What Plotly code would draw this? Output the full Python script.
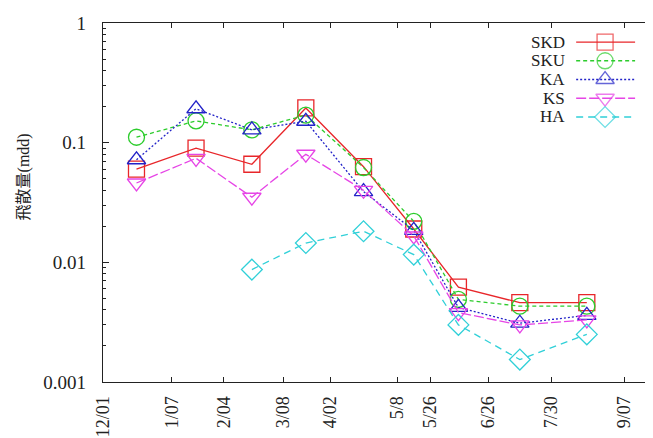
import plotly.graph_objects as go

# ---- data ----
dates = ["2010-12-19", "2011-01-20", "2011-02-19", "2011-03-20", "2011-04-20",
         "2011-05-17", "2011-06-10", "2011-07-13", "2011-08-18"]
SKD = [0.060, 0.090, 0.066, 0.195, 0.063, 0.019, 0.0062, 0.0046, 0.0046]
SKU = [0.111, 0.152, 0.128, 0.170, 0.062, 0.022, 0.0049, 0.0043, 0.0043]
KA = [0.072, 0.192, 0.128, 0.151, 0.039, 0.0185, 0.0042, 0.0031, 0.0036]
KS = [0.046, 0.074, 0.035, 0.080, 0.040, 0.0166, 0.0038, 0.0030, 0.0033]
HA = [None, None, 0.0087, 0.0145, 0.0182, 0.0116, 0.0030, 0.00154, 0.0025]

series_names = ["SKD", "SKU", "KA", "KS", "HA"]
series_values = [SKD, SKU, KA, KS, HA]

x_tick_vals = ["2010-12-01", "2011-01-07", "2011-02-04", "2011-03-08", "2011-04-02",
               "2011-05-08", "2011-05-26", "2011-06-26", "2011-07-30", "2011-09-07"]
x_tick_text = ["12/01", "1/07", "2/04", "3/08", "4/02", "5/8", "5/26", "6/26", "7/30", "9/07"]
y_tick_vals = [0.001, 0.01, 0.1, 1]
y_tick_text = ["0.001", "0.01", "0.1", "1"]
y_title = "飛散量(mdd)"

# ---- styles ----
colors = ["#e8262a", "#2ccc2c", "#2323c8", "#e645e6", "#30d0d8"]
dashes = ["solid", "4px,3px", "2px,2px", "10px,3px", "7px,5px"]
symbols = ["square-open", "circle-open", "triangle-up-open", "triangle-down-open", "diamond-open"]
msize = 16

FONT = "Liberation Serif, Noto Sans CJK JP, serif"

fig = go.Figure()
for name, vals, c, d, s in zip(series_names, series_values, colors, dashes, symbols):
    fig.add_trace(go.Scatter(
        x=dates, y=vals, name=name, mode="lines+markers",
        line=dict(color=c, width=1.3, dash=d),
        marker=dict(symbol=s, size=msize, color=c, line=dict(width=1.3, color=c)),
        showlegend=False, connectgaps=False,
    ))

# ---- custom gnuplot-style key (text left, sample right) on an overlay paper axis ----
key_top = 0.947
key_step = 0.0522
key_x0, key_xm, key_x1 = 0.851, 0.903, 0.957
key_text_x = 0.834
for i, (name, c, d, s) in enumerate(zip(series_names, colors, dashes, symbols)):
    yy = key_top - i * key_step
    fig.add_trace(go.Scatter(
        x=[key_x0, key_xm, key_x1], y=[yy, yy, yy], xaxis="x2", yaxis="y2",
        mode="lines+markers", showlegend=False, hoverinfo="skip",
        line=dict(color=c, width=1.3, dash=d),
        marker=dict(symbol=s, size=[0, msize, 0], color=c, line=dict(width=1.3, color=c)),
    ))
    fig.add_annotation(x=key_text_x, y=yy, xref="x2", yref="y2", text=name,
                       showarrow=False, xanchor="right", yanchor="middle",
                       font=dict(family=FONT, size=17, color="#222"))

fig.add_annotation(x=-0.142, y=0.57, xref="paper", yref="paper", text=y_title,
                   showarrow=False, textangle=-90, xanchor="center", yanchor="middle",
                   font=dict(family=FONT, size=16, color="#222"))

axis_common = dict(showline=True, linecolor="#222", linewidth=1.2, mirror="allticks",
                   ticks="inside", tickcolor="#222", showgrid=False, zeroline=False)

fig.update_layout(
    width=653, height=438,
    margin=dict(l=95, r=2, t=15, b=64),
    paper_bgcolor="white", plot_bgcolor="white",
    font=dict(family=FONT, size=19, color="#222"),
    xaxis=dict(type="date", range=["2010-12-01", "2011-09-25 19:00"],
               tickvals=x_tick_vals, ticktext=x_tick_text, tickangle=-90,
               tickfont=dict(family=FONT, size=18, color="#222"),
               ticklen=5, ticklabelstandoff=6, **axis_common),
    yaxis=dict(type="log", range=[-3, 0], tickvals=y_tick_vals, ticktext=y_tick_text,
               ticklen=6, ticklabelstandoff=12,
               minor=dict(ticks="inside", ticklen=3, tickcolor="#222",
                          tickvals=[k * 10 ** e for e in (-3, -2, -1) for k in range(2, 10)]),
               **axis_common),
    xaxis2=dict(overlaying="x", range=[0, 1], visible=False, fixedrange=True),
    yaxis2=dict(overlaying="y", range=[0, 1], visible=False, fixedrange=True),
)

fig.write_html("out.html")
